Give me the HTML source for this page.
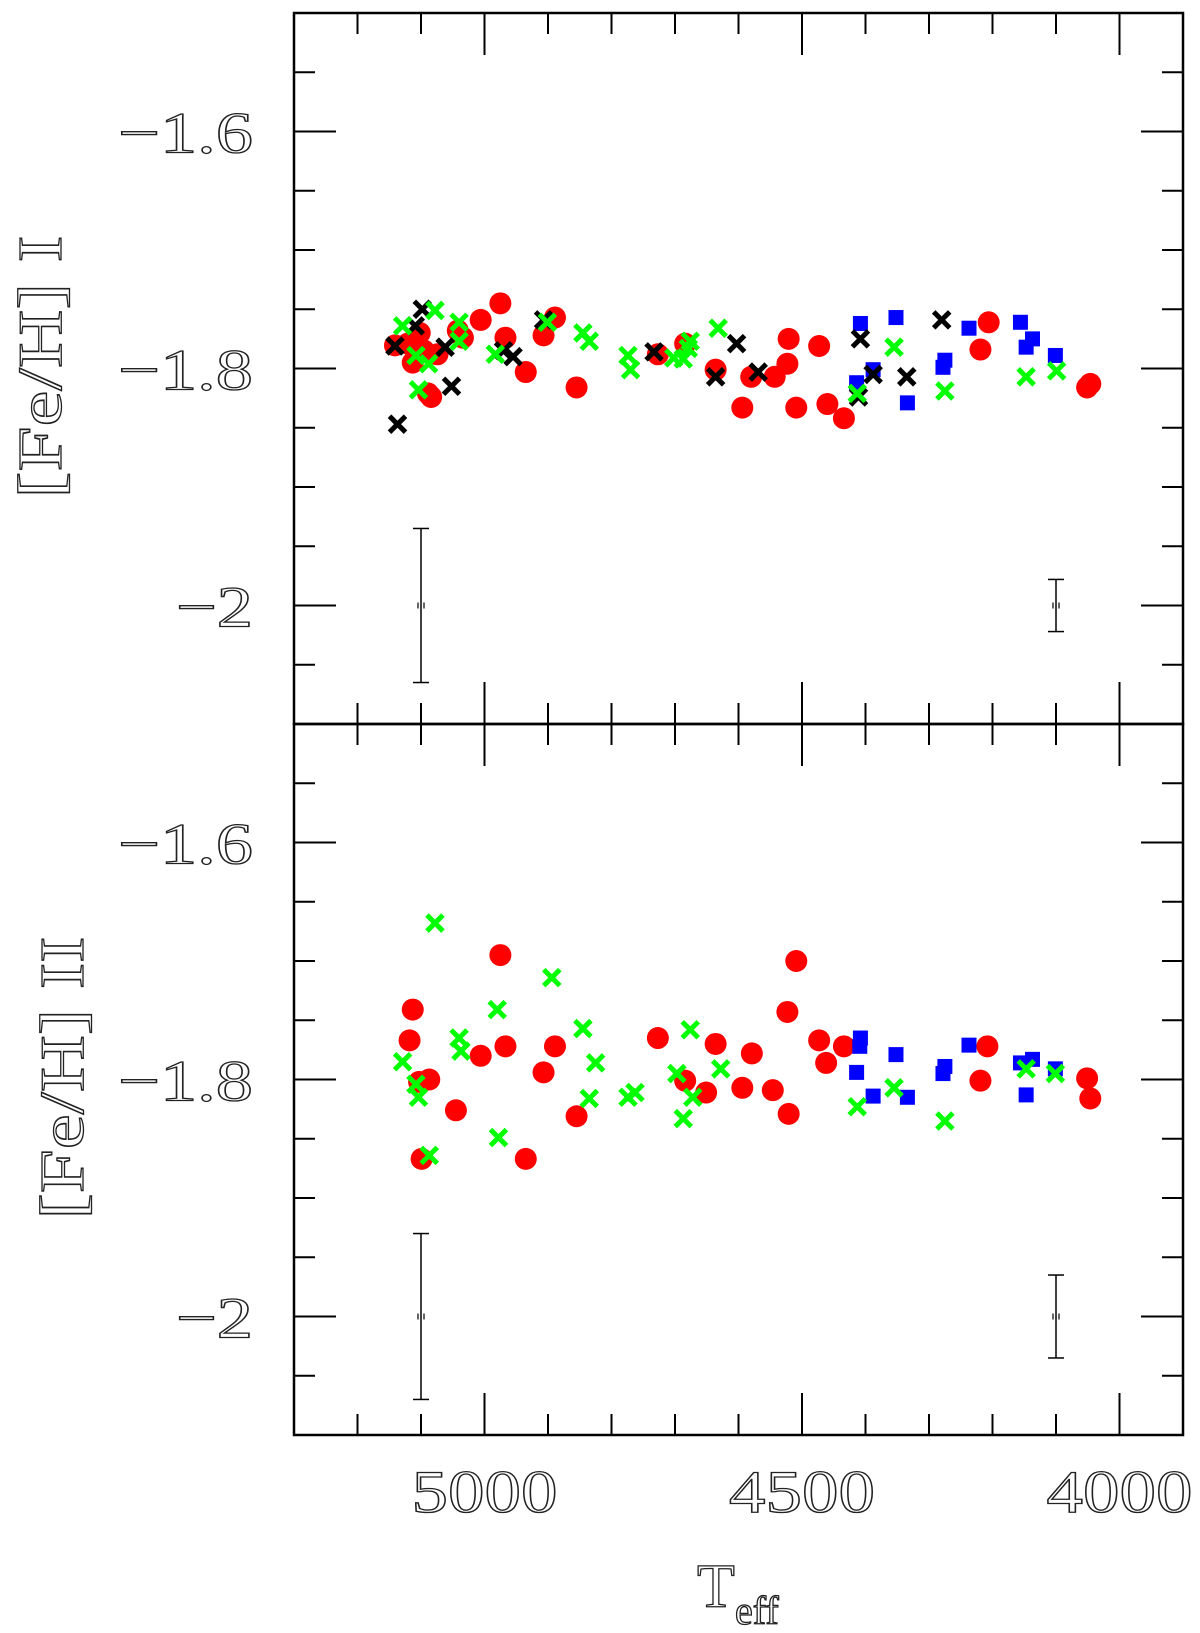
<!DOCTYPE html>
<html><head><meta charset="utf-8"><style>
html,body{margin:0;padding:0;background:#fff;}
svg{display:block;font-family:"Liberation Serif",serif;}
svg text{fill:none;stroke:#222;stroke-width:1.3;}
</style></head><body>
<svg id="chart" width="1200" height="1633" viewBox="0 0 1200 1633"></svg>
<script>
// ---- data (Teff, [Fe/H]) ----
const topRedT=[5141,5121,5113,5102,5095,5089,5084,5074,5042,5034,5006,4975,4967,4935,4907,4889,4855,4727,4684,4636,4594,4580,4543,4521,4523,4509,4473,4460,4434,4206,4219,4051,4046];
const topRedV=[-1.7805,-1.779,-1.795,-1.770,-1.785,-1.821,-1.824,-1.788,-1.768,-1.774,-1.759,-1.745,-1.774,-1.803,-1.772,-1.757,-1.816,-1.788,-1.779,-1.801,-1.833,-1.807,-1.807,-1.775,-1.796,-1.833,-1.781,-1.830,-1.842,-1.761,-1.784,-1.816,-1.813];
const topBlackT=[5137,5141,5109,5098,5062,5052,4970,4955,4907,4733,4636,4603,4569,4408,4388,4335,4280,4411];
const topBlackV=[-1.847,-1.781,-1.764,-1.750,-1.782,-1.815,-1.785,-1.790,-1.759,-1.786,-1.807,-1.779,-1.803,-1.775,-1.805,-1.807,-1.759,-1.824];
const topGreenT=[5129,5108,5104,5088,5078,5040,5040,4983,4901,4845,4835,4774,4770,4702,4679,4676,4632,4413,4355,4275,4147,4099,4687];
const topGreenV=[-1.764,-1.789,-1.818,-1.796,-1.751,-1.761,-1.777,-1.788,-1.761,-1.770,-1.777,-1.789,-1.801,-1.791,-1.783,-1.777,-1.766,-1.821,-1.782,-1.819,-1.807,-1.802,-1.792];
const topBlueT=[4408,4414,4388,4352,4334,4278,4275,4237,4156,4147,4137,4101];
const topBlueV=[-1.762,-1.812,-1.801,-1.757,-1.829,-1.799,-1.793,-1.766,-1.761,-1.782,-1.775,-1.789];
const botRedT=[5118,5113,5103,5099,5087,5045,5006,4975,4967,4935,4907,4889,4855,4727,4684,4651,4636,4594,4579,4546,4523,4521,4509,4473,4462,4434,4219,4208,4051,4046];
const botRedV=[-1.767,-1.741,-1.802,-1.867,-1.800,-1.826,-1.780,-1.695,-1.772,-1.867,-1.794,-1.772,-1.831,-1.765,-1.801,-1.811,-1.770,-1.807,-1.778,-1.809,-1.743,-1.829,-1.700,-1.767,-1.786,-1.772,-1.801,-1.772,-1.799,-1.816];
const botGreenT=[5129,5108,5104,5087,5078,5040,5037,4978,4980,4894,4845,4835,4825,4774,4763,4697,4687,4676,4672,4628,4413,4355,4275,4147,4101];
const botGreenV=[-1.785,-1.804,-1.815,-1.864,-1.668,-1.765,-1.776,-1.849,-1.741,-1.714,-1.757,-1.816,-1.786,-1.815,-1.811,-1.795,-1.833,-1.758,-1.815,-1.791,-1.823,-1.807,-1.835,-1.791,-1.795];
const botBlueT=[4408,4414,4388,4352,4334,4278,4275,4237,4156,4147,4137,4101,4409];
const botBlueV=[-1.765,-1.794,-1.814,-1.779,-1.815,-1.795,-1.789,-1.771,-1.786,-1.813,-1.783,-1.791,-1.772];
const topErrT=[5100,4100]; const topErrC=[-2,-2]; const topErrH=[0.065,0.022];
const botErrT=[5100,4100]; const botErrC=[-2,-2]; const botErrH=[0.07,0.035];
const xTickVals=[5000,4500,4000]; const xTickLabels=["5000","4500","4000"];
const yTickVals=[-1.6,-1.8,-2]; const yTickLabels=["\u22121.6","\u22121.8","\u22122"];

const NS="http://www.w3.org/2000/svg";
const svg=document.getElementById('chart');
const L=294,R=1183,T0=13,MID=724,B=1435;
const xMin=5300,xMax=3900;
function X(t){return L+(xMin-t)/(xMin-xMax)*(R-L);}
function Yp(top,v){return top+(-1.5-v)/0.6*711;}
function mk(tag,attrs,name,parent){const e=document.createElementNS(NS,tag);for(const k in attrs)e.setAttribute(k,attrs[k]);


(parent||svg).appendChild(e);return e;}

function panel(top,idx){
  const g=mk('g',{},idx===0?'panel-feh-i':'panel-feh-ii');
  const bot=top+711;
  for(let t=5250;t>=3900;t-=50){
    const major=(t%500===0); const len=(t%100===0)?(major?42:21):0;
    if(!len) continue;
    const x=X(t);
    mk('line',{x1:x,y1:bot,x2:x,y2:bot-len,stroke:'#000','stroke-width':2},'x-tick',g);
    mk('line',{x1:x,y1:top,x2:x,y2:top+len,stroke:'#000','stroke-width':2},'x-tick',g);
  }
  for(let k=0;k<=12;k++){
    const v=-1.5-k*0.05; const y=Yp(top,v);
    const major=(Math.round(v*100)%20===0); const len=major?42:21;
    mk('line',{x1:L,y1:y,x2:L+len,y2:y,stroke:'#000','stroke-width':2},'y-tick',g);
    mk('line',{x1:R,y1:y,x2:R-len,y2:y,stroke:'#000','stroke-width':2},'y-tick',g);
  }
  yTickVals.forEach((v,i)=>{
    const y=Yp(top,v)+21;
    const w=yTickLabels[i].length>3?135:77;
    mk('text',{x:253,y:y,'text-anchor':'end','font-size':58,textLength:w,lengthAdjust:'spacingAndGlyphs'},'y-tick-label',g).textContent=yTickLabels[i];
  });
  mk('rect',{x:L,y:top,width:R-L,height:711,fill:'none',stroke:'#000','stroke-width':2.5},'plot-frame',g);
  return g;
}
function errs(g,top,Ts,Cs,Hs){
  Ts.forEach((t,i)=>{
    const x=X(t),y1=Yp(top,Cs[i]+Hs[i]),y2=Yp(top,Cs[i]-Hs[i]),yc=Yp(top,Cs[i]);
    mk('line',{x1:x,y1:y1,x2:x,y2:y2,stroke:'#000','stroke-width':1.5},'error-bar',g);
    mk('line',{x1:x-8,y1:y1,x2:x+8,y2:y1,stroke:'#000','stroke-width':1.5},'error-cap',g);
    mk('line',{x1:x-8,y1:y2,x2:x+8,y2:y2,stroke:'#000','stroke-width':1.5},'error-cap',g);
    mk('line',{x1:x-3,y1:yc-3,x2:x-3,y2:yc+3,stroke:'#000','stroke-width':1.2},'error-center',g);
    mk('line',{x1:x+3,y1:yc-3,x2:x+3,y2:yc+3,stroke:'#000','stroke-width':1.2},'error-center',g);
  });
}
function circles(g,top,Ts,Vs){Ts.forEach((t,i)=>mk('circle',{cx:X(t),cy:Yp(top,Vs[i]),r:11,fill:'#f00'},'red-circle-point',g));}
function squares(g,top,Ts,Vs){Ts.forEach((t,i)=>mk('rect',{x:X(t)-7.5,y:Yp(top,Vs[i])-7.5,width:15,height:15,fill:'#00f'},'blue-square-point',g));}
function crosses(g,top,Ts,Vs,col,name){Ts.forEach((t,i)=>{const x=X(t),y=Yp(top,Vs[i]),d=8;
  mk('path',{d:`M${x-d} ${y-d}L${x+d} ${y+d}M${x-d} ${y+d}L${x+d} ${y-d}`,stroke:col,'stroke-width':5,fill:'none'},name,g);});}

const g1=panel(T0,0);
errs(g1,T0,topErrT,topErrC,topErrH);
circles(g1,T0,topRedT,topRedV);
squares(g1,T0,topBlueT,topBlueV);
crosses(g1,T0,topBlackT,topBlackV,'#000','black-cross-point');
crosses(g1,T0,topGreenT,topGreenV,'#0f0','green-cross-point');
const g2=panel(MID,1);
errs(g2,MID,botErrT,botErrC,botErrH);
circles(g2,MID,botRedT,botRedV);
squares(g2,MID,botBlueT,botBlueV);
crosses(g2,MID,botGreenT,botGreenV,'#0f0','green-cross-point');

xTickVals.forEach((t,i)=>{
  mk('text',{x:X(t),y:1512,'text-anchor':'middle','font-size':60,textLength:146,lengthAdjust:'spacingAndGlyphs'},'x-tick-label').textContent=xTickLabels[i];
});
const t1=mk('text',{x:0,y:0,'text-anchor':'middle','font-size':62,textLength:263,lengthAdjust:'spacingAndGlyphs',transform:'translate(61,367) rotate(-90)'},'y-axis-title-feh-i');
t1.textContent='[Fe/H] I';
const t2=mk('text',{x:0,y:0,'text-anchor':'middle','font-size':62,textLength:283,lengthAdjust:'spacingAndGlyphs',transform:'translate(83,1078) rotate(-90)'},'y-axis-title-feh-ii');
t2.textContent='[Fe/H] II';
const xt=mk('text',{x:697,y:1607,'font-size':62},'x-axis-title');
xt.textContent='T';
const sub=mk('tspan',{x:735,y:1624,'font-size':40},'x-axis-title-subscript',xt);
sub.textContent='eff';
</script>
</body></html>
